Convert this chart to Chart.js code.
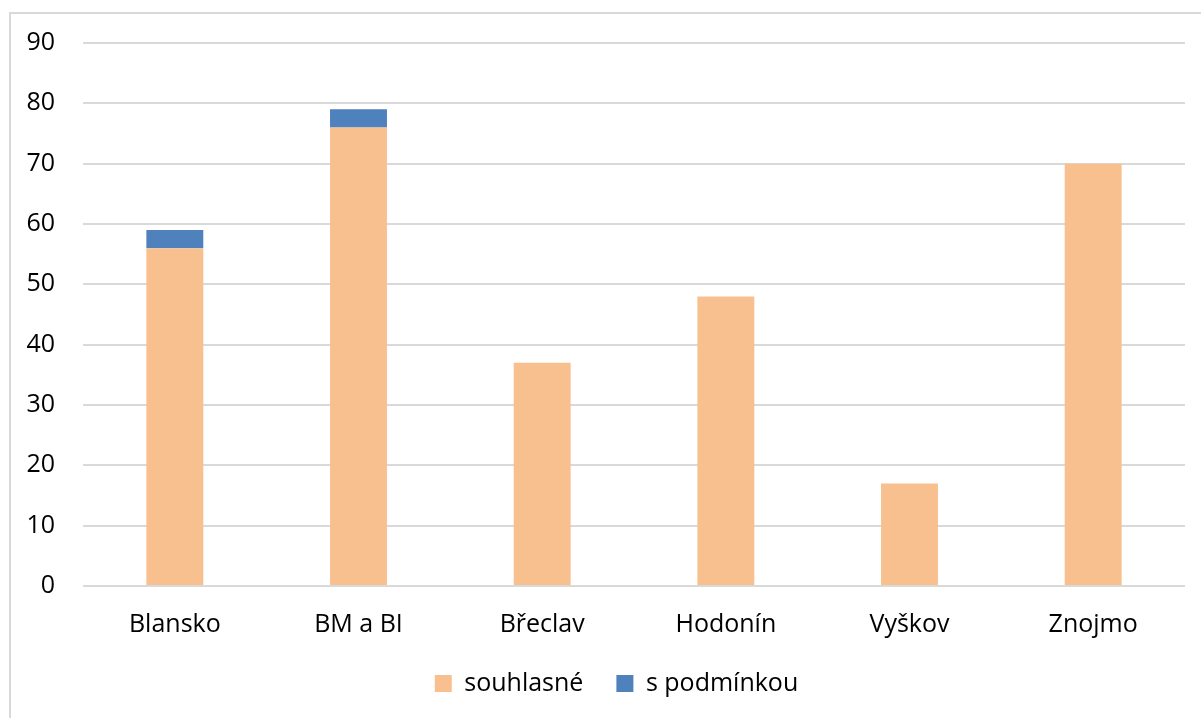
<!DOCTYPE html>
<html>
<head>
<meta charset="utf-8">
<script src="https://cdn.jsdelivr.net/npm/chart.js@4.4.0/dist/chart.umd.min.js"></script>
<style>
  html, body { margin: 0; padding: 0; background: #fff; overflow: hidden; }
  #frame { position: absolute; left: 9px; top: 12px; width: 1300px; height: 800px; border-left: 2px solid #d9d9d9; border-top: 2px solid #d9d9d9; }
  #chart { position: absolute; left: 0; top: 0; }
</style>
</head>
<body>
<div id="frame"></div>
<canvas id="chart" width="1201" height="718"></canvas>
<script>
const districts = ['Blansko', 'BM a BI', 'Břeclav', 'Hodonín', 'Vyškov', 'Znojmo'];
const souhlasne = [56, 76, 37, 48, 17, 70];
const sPodminkou = [3, 3, 0, 0, 0, 0];
const yTicks = [0, 10, 20, 30, 40, 50, 60, 70, 80, 90];

const font = { family: '"Open Sans", sans-serif', size: 25 };

// legend: fixed height and a small shift to the right, like the original
const legendTweak = {
  id: 'legendTweak',
  beforeInit(chart) {
    const legend = chart.legend;
    const origFit = legend.fit;
    legend.fit = function () {
      origFit.call(this);
      this.height = 80;
    };
  },
  afterLayout(chart) {
    chart.legend.left += 24;
    chart.legend.right += 24;
  }
};

const ctx = document.getElementById('chart').getContext('2d');
const chart = new Chart(ctx, {
  type: 'bar',
  data: {
    labels: districts,
    datasets: [{
      label: 'souhlasné',
      data: souhlasne,
      backgroundColor: '#f9c08f',
      categoryPercentage: 1,
      barPercentage: 0.31
    }, {
      label: 's podmínkou',
      data: sPodminkou,
      backgroundColor: '#4f81bd',
      categoryPercentage: 1,
      barPercentage: 0.31
    }]
  },
  options: {
    responsive: false,
    animation: false,
    layout: { padding: { left: 0, right: 16, top: 43, bottom: 0 } },
    plugins: {
      tooltip: { enabled: false },
      legend: {
        position: 'bottom',
        labels: {
          color: '#000',
          font: font,
          boxWidth: 17,
          boxHeight: 17,
          padding: 33
        }
      }
    },
    scales: {
      x: {
        stacked: true,
        afterFit: (scale) => { scale.height = 52; },
        grid: { display: false },
        border: { display: false },
        ticks: { color: '#000', font: font, padding: 16 }
      },
      y: {
        stacked: true,
        min: 0,
        max: 90,
        afterBuildTicks: (scale) => { scale.ticks = yTicks.map(v => ({ value: v })); },
        afterFit: (scale) => { scale.width = 83; },
        grid: { color: '#d9d9d9', lineWidth: 2, drawTicks: false },
        border: { display: false },
        ticks: { color: '#000', font: font, padding: 28 }
      }
    }
  },
  plugins: [legendTweak]
});
</script>
</body>
</html>
